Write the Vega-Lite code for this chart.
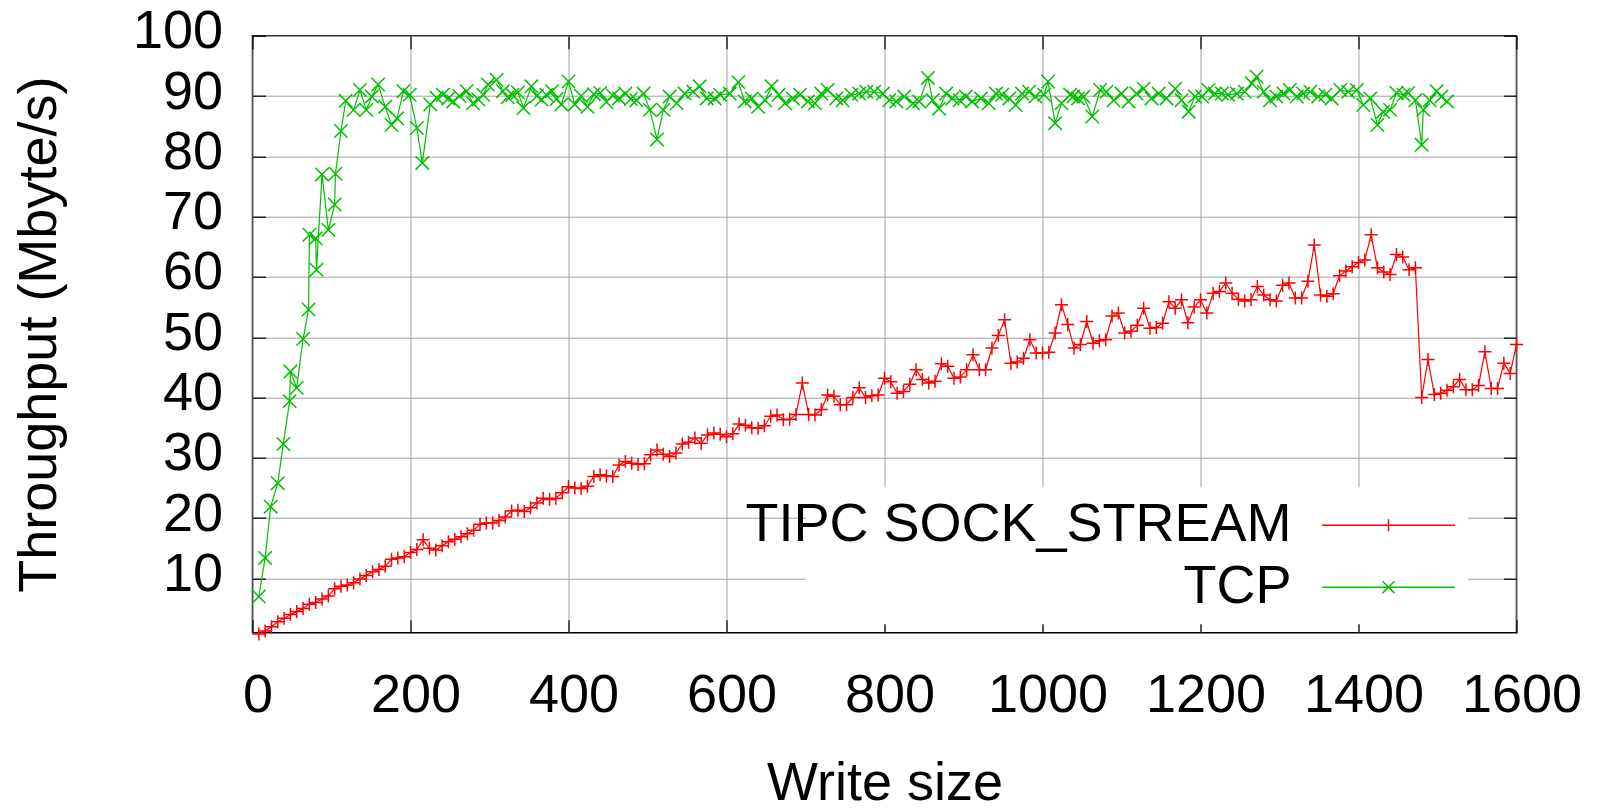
{
  "$schema": "https://vega.github.io/schema/vega-lite/v6.json",
  "width": 1264,
  "height": 597,
  "autosize": {"type": "none"},
  "padding": {"left": 252.5, "top": 35.7, "right": 81.5, "bottom": 177.3},
  "background": "#ffffff",
  "config": {
    "font": "Liberation Sans",
    "view": {"stroke": "#000000", "strokeWidth": 1.5},
    "axis": {"labelFont": "Liberation Sans", "titleFont": "Liberation Sans", "labelColor": "#000000", "titleColor": "#000000", "titleFontWeight": "normal", "gridColor": "#a0a0a0", "gridWidth": 1, "gridOpacity": 1, "tickColor": "#000000", "tickWidth": 1.2, "domain": false}
  },
  "data": {"values": [
    {"k":"TCP","x":8,"y":7.0},{"k":"TCP","x":16,"y":13.4},{"k":"TCP","x":23,"y":21.9},{"k":"TCP","x":32,"y":25.8},{"k":"TCP","x":39,"y":32.3},{"k":"TCP","x":47,"y":39.4},{"k":"TCP","x":48,"y":44.3},{"k":"TCP","x":56,"y":41.6},{"k":"TCP","x":64,"y":49.7},{"k":"TCP","x":71,"y":54.6},{"k":"TCP","x":72,"y":67.0},{"k":"TCP","x":80,"y":66.4},{"k":"TCP","x":81,"y":61.2},{"k":"TCP","x":88,"y":77.0},{"k":"TCP","x":96,"y":67.8},{"k":"TCP","x":104,"y":72.0},{"k":"TCP","x":105,"y":77.1},{"k":"TCP","x":112,"y":84.2},{"k":"TCP","x":118,"y":89.2},{"k":"TCP","x":128,"y":87.7},{"k":"TCP","x":136,"y":91.0},{"k":"TCP","x":144,"y":87.7},{"k":"TCP","x":151,"y":89.9},{"k":"TCP","x":159,"y":91.9},{"k":"TCP","x":168,"y":88.2},{"k":"TCP","x":176,"y":85.2},{"k":"TCP","x":183,"y":86.3},{"k":"TCP","x":191,"y":90.8},{"k":"TCP","x":199,"y":90.2},{"k":"TCP","x":208,"y":84.7},{"k":"TCP","x":215,"y":78.9},{"k":"TCP","x":225,"y":88.6},{"k":"TCP","x":233,"y":89.7},{"k":"TCP","x":241,"y":90.2},{"k":"TCP","x":248,"y":89.6},{"k":"TCP","x":254,"y":89.1},{"k":"TCP","x":262,"y":90.0},{"k":"TCP","x":271,"y":90.8},{"k":"TCP","x":279,"y":88.8},{"k":"TCP","x":286,"y":89.4},{"k":"TCP","x":292,"y":90.2},{"k":"TCP","x":298,"y":91.9},{"k":"TCP","x":309,"y":92.7},{"k":"TCP","x":317,"y":90.8},{"k":"TCP","x":323,"y":89.8},{"k":"TCP","x":329,"y":90.2},{"k":"TCP","x":336,"y":90.6},{"k":"TCP","x":343,"y":88.0},{"k":"TCP","x":353,"y":91.6},{"k":"TCP","x":360,"y":90.0},{"k":"TCP","x":366,"y":89.4},{"k":"TCP","x":372,"y":90.2},{"k":"TCP","x":379,"y":90.8},{"k":"TCP","x":385,"y":89.5},{"k":"TCP","x":391,"y":88.6},{"k":"TCP","x":400,"y":92.4},{"k":"TCP","x":408,"y":88.6},{"k":"TCP","x":416,"y":90.0},{"k":"TCP","x":424,"y":88.2},{"k":"TCP","x":432,"y":90.3},{"k":"TCP","x":440,"y":90.5},{"k":"TCP","x":448,"y":89.0},{"k":"TCP","x":456,"y":90.1},{"k":"TCP","x":464,"y":89.6},{"k":"TCP","x":472,"y":90.4},{"k":"TCP","x":479,"y":89.5},{"k":"TCP","x":486,"y":89.3},{"k":"TCP","x":495,"y":90.4},{"k":"TCP","x":503,"y":87.7},{"k":"TCP","x":512,"y":82.8},{"k":"TCP","x":520,"y":87.7},{"k":"TCP","x":528,"y":89.9},{"k":"TCP","x":537,"y":88.8},{"k":"TCP","x":547,"y":90.4},{"k":"TCP","x":558,"y":90.7},{"k":"TCP","x":566,"y":91.6},{"k":"TCP","x":575,"y":89.6},{"k":"TCP","x":585,"y":89.6},{"k":"TCP","x":592,"y":90.2},{"k":"TCP","x":604,"y":90.4},{"k":"TCP","x":615,"y":92.3},{"k":"TCP","x":623,"y":89.1},{"k":"TCP","x":632,"y":89.6},{"k":"TCP","x":640,"y":88.2},{"k":"TCP","x":649,"y":89.3},{"k":"TCP","x":657,"y":91.6},{"k":"TCP","x":666,"y":90.2},{"k":"TCP","x":674,"y":88.8},{"k":"TCP","x":684,"y":89.6},{"k":"TCP","x":693,"y":90.2},{"k":"TCP","x":703,"y":89.1},{"k":"TCP","x":712,"y":88.8},{"k":"TCP","x":720,"y":90.4},{"k":"TCP","x":728,"y":91.0},{"k":"TCP","x":739,"y":89.6},{"k":"TCP","x":747,"y":89.3},{"k":"TCP","x":758,"y":90.2},{"k":"TCP","x":768,"y":90.4},{"k":"TCP","x":777,"y":90.7},{"k":"TCP","x":787,"y":90.7},{"k":"TCP","x":798,"y":90.4},{"k":"TCP","x":806,"y":89.3},{"k":"TCP","x":815,"y":89.1},{"k":"TCP","x":825,"y":89.9},{"k":"TCP","x":836,"y":88.8},{"k":"TCP","x":844,"y":89.1},{"k":"TCP","x":855,"y":93.0},{"k":"TCP","x":861,"y":89.3},{"k":"TCP","x":869,"y":87.9},{"k":"TCP","x":878,"y":90.4},{"k":"TCP","x":886,"y":89.6},{"k":"TCP","x":895,"y":89.3},{"k":"TCP","x":903,"y":89.9},{"k":"TCP","x":911,"y":89.1},{"k":"TCP","x":922,"y":89.6},{"k":"TCP","x":932,"y":88.8},{"k":"TCP","x":941,"y":90.4},{"k":"TCP","x":949,"y":90.2},{"k":"TCP","x":958,"y":89.6},{"k":"TCP","x":966,"y":88.5},{"k":"TCP","x":974,"y":90.4},{"k":"TCP","x":983,"y":90.7},{"k":"TCP","x":991,"y":89.9},{"k":"TCP","x":1002,"y":90.2},{"k":"TCP","x":1007,"y":92.4},{"k":"TCP","x":1016,"y":85.5},{"k":"TCP","x":1024,"y":88.8},{"k":"TCP","x":1035,"y":90.2},{"k":"TCP","x":1039,"y":89.9},{"k":"TCP","x":1045,"y":89.6},{"k":"TCP","x":1052,"y":89.9},{"k":"TCP","x":1063,"y":86.6},{"k":"TCP","x":1073,"y":91.0},{"k":"TCP","x":1081,"y":90.7},{"k":"TCP","x":1090,"y":89.3},{"k":"TCP","x":1100,"y":90.4},{"k":"TCP","x":1109,"y":89.1},{"k":"TCP","x":1119,"y":90.4},{"k":"TCP","x":1128,"y":91.2},{"k":"TCP","x":1138,"y":89.6},{"k":"TCP","x":1147,"y":90.4},{"k":"TCP","x":1157,"y":89.6},{"k":"TCP","x":1168,"y":91.2},{"k":"TCP","x":1176,"y":89.3},{"k":"TCP","x":1185,"y":87.4},{"k":"TCP","x":1193,"y":89.9},{"k":"TCP","x":1202,"y":89.9},{"k":"TCP","x":1210,"y":91.0},{"k":"TCP","x":1218,"y":90.4},{"k":"TCP","x":1227,"y":90.4},{"k":"TCP","x":1235,"y":90.2},{"k":"TCP","x":1246,"y":90.4},{"k":"TCP","x":1256,"y":90.7},{"k":"TCP","x":1265,"y":92.1},{"k":"TCP","x":1271,"y":93.2},{"k":"TCP","x":1280,"y":90.7},{"k":"TCP","x":1288,"y":89.3},{"k":"TCP","x":1296,"y":89.9},{"k":"TCP","x":1305,"y":90.4},{"k":"TCP","x":1313,"y":91.0},{"k":"TCP","x":1322,"y":89.9},{"k":"TCP","x":1330,"y":90.4},{"k":"TCP","x":1339,"y":90.7},{"k":"TCP","x":1349,"y":89.9},{"k":"TCP","x":1358,"y":90.2},{"k":"TCP","x":1366,"y":89.6},{"k":"TCP","x":1377,"y":91.0},{"k":"TCP","x":1387,"y":90.7},{"k":"TCP","x":1398,"y":91.0},{"k":"TCP","x":1406,"y":88.5},{"k":"TCP","x":1415,"y":89.6},{"k":"TCP","x":1424,"y":85.2},{"k":"TCP","x":1431,"y":87.4},{"k":"TCP","x":1440,"y":87.7},{"k":"TCP","x":1448,"y":90.5},{"k":"TCP","x":1457,"y":90.2},{"k":"TCP","x":1463,"y":90.5},{"k":"TCP","x":1472,"y":89.3},{"k":"TCP","x":1480,"y":81.9},{"k":"TCP","x":1482,"y":87.7},{"k":"TCP","x":1490,"y":89.3},{"k":"TCP","x":1499,"y":90.8},{"k":"TCP","x":1505,"y":89.9},{"k":"TCP","x":1512,"y":89.1},
    {"k":"TIPC SOCK_STREAM","x":8,"y":0.8},{"k":"TIPC SOCK_STREAM","x":16,"y":1.3},{"k":"TIPC SOCK_STREAM","x":24,"y":2.0},{"k":"TIPC SOCK_STREAM","x":32,"y":2.8},{"k":"TIPC SOCK_STREAM","x":40,"y":3.4},{"k":"TIPC SOCK_STREAM","x":48,"y":4.0},{"k":"TIPC SOCK_STREAM","x":56,"y":4.5},{"k":"TIPC SOCK_STREAM","x":64,"y":5.0},{"k":"TIPC SOCK_STREAM","x":72,"y":5.7},{"k":"TIPC SOCK_STREAM","x":80,"y":6.0},{"k":"TIPC SOCK_STREAM","x":88,"y":6.6},{"k":"TIPC SOCK_STREAM","x":96,"y":7.1},{"k":"TIPC SOCK_STREAM","x":104,"y":8.3},{"k":"TIPC SOCK_STREAM","x":112,"y":8.7},{"k":"TIPC SOCK_STREAM","x":120,"y":8.9},{"k":"TIPC SOCK_STREAM","x":128,"y":9.3},{"k":"TIPC SOCK_STREAM","x":136,"y":9.9},{"k":"TIPC SOCK_STREAM","x":144,"y":10.5},{"k":"TIPC SOCK_STREAM","x":152,"y":11.1},{"k":"TIPC SOCK_STREAM","x":160,"y":11.5},{"k":"TIPC SOCK_STREAM","x":168,"y":12.0},{"k":"TIPC SOCK_STREAM","x":176,"y":13.2},{"k":"TIPC SOCK_STREAM","x":184,"y":13.4},{"k":"TIPC SOCK_STREAM","x":192,"y":13.6},{"k":"TIPC SOCK_STREAM","x":200,"y":14.3},{"k":"TIPC SOCK_STREAM","x":208,"y":14.8},{"k":"TIPC SOCK_STREAM","x":216,"y":16.4},{"k":"TIPC SOCK_STREAM","x":224,"y":15.0},{"k":"TIPC SOCK_STREAM","x":232,"y":14.7},{"k":"TIPC SOCK_STREAM","x":240,"y":15.4},{"k":"TIPC SOCK_STREAM","x":248,"y":16.1},{"k":"TIPC SOCK_STREAM","x":256,"y":16.5},{"k":"TIPC SOCK_STREAM","x":264,"y":16.9},{"k":"TIPC SOCK_STREAM","x":272,"y":17.4},{"k":"TIPC SOCK_STREAM","x":280,"y":18.0},{"k":"TIPC SOCK_STREAM","x":288,"y":19.0},{"k":"TIPC SOCK_STREAM","x":296,"y":19.2},{"k":"TIPC SOCK_STREAM","x":304,"y":19.2},{"k":"TIPC SOCK_STREAM","x":312,"y":19.6},{"k":"TIPC SOCK_STREAM","x":320,"y":20.2},{"k":"TIPC SOCK_STREAM","x":328,"y":21.2},{"k":"TIPC SOCK_STREAM","x":336,"y":21.3},{"k":"TIPC SOCK_STREAM","x":344,"y":21.1},{"k":"TIPC SOCK_STREAM","x":352,"y":21.7},{"k":"TIPC SOCK_STREAM","x":360,"y":22.5},{"k":"TIPC SOCK_STREAM","x":368,"y":23.3},{"k":"TIPC SOCK_STREAM","x":376,"y":23.1},{"k":"TIPC SOCK_STREAM","x":384,"y":23.3},{"k":"TIPC SOCK_STREAM","x":392,"y":24.2},{"k":"TIPC SOCK_STREAM","x":400,"y":25.2},{"k":"TIPC SOCK_STREAM","x":408,"y":25.0},{"k":"TIPC SOCK_STREAM","x":416,"y":24.9},{"k":"TIPC SOCK_STREAM","x":424,"y":25.3},{"k":"TIPC SOCK_STREAM","x":432,"y":26.9},{"k":"TIPC SOCK_STREAM","x":440,"y":27.2},{"k":"TIPC SOCK_STREAM","x":448,"y":27.0},{"k":"TIPC SOCK_STREAM","x":456,"y":26.9},{"k":"TIPC SOCK_STREAM","x":464,"y":28.8},{"k":"TIPC SOCK_STREAM","x":472,"y":29.4},{"k":"TIPC SOCK_STREAM","x":480,"y":29.1},{"k":"TIPC SOCK_STREAM","x":488,"y":28.9},{"k":"TIPC SOCK_STREAM","x":496,"y":29.0},{"k":"TIPC SOCK_STREAM","x":504,"y":30.5},{"k":"TIPC SOCK_STREAM","x":512,"y":31.3},{"k":"TIPC SOCK_STREAM","x":520,"y":30.6},{"k":"TIPC SOCK_STREAM","x":528,"y":30.2},{"k":"TIPC SOCK_STREAM","x":536,"y":30.8},{"k":"TIPC SOCK_STREAM","x":544,"y":32.3},{"k":"TIPC SOCK_STREAM","x":552,"y":32.6},{"k":"TIPC SOCK_STREAM","x":560,"y":33.3},{"k":"TIPC SOCK_STREAM","x":568,"y":32.4},{"k":"TIPC SOCK_STREAM","x":576,"y":33.8},{"k":"TIPC SOCK_STREAM","x":584,"y":34.1},{"k":"TIPC SOCK_STREAM","x":592,"y":33.9},{"k":"TIPC SOCK_STREAM","x":600,"y":33.5},{"k":"TIPC SOCK_STREAM","x":608,"y":34.0},{"k":"TIPC SOCK_STREAM","x":616,"y":35.6},{"k":"TIPC SOCK_STREAM","x":624,"y":35.4},{"k":"TIPC SOCK_STREAM","x":632,"y":35.0},{"k":"TIPC SOCK_STREAM","x":640,"y":34.9},{"k":"TIPC SOCK_STREAM","x":648,"y":35.3},{"k":"TIPC SOCK_STREAM","x":656,"y":36.9},{"k":"TIPC SOCK_STREAM","x":664,"y":37.1},{"k":"TIPC SOCK_STREAM","x":672,"y":36.3},{"k":"TIPC SOCK_STREAM","x":680,"y":36.4},{"k":"TIPC SOCK_STREAM","x":688,"y":37.2},{"k":"TIPC SOCK_STREAM","x":696,"y":42.4},{"k":"TIPC SOCK_STREAM","x":704,"y":37.2},{"k":"TIPC SOCK_STREAM","x":712,"y":37.1},{"k":"TIPC SOCK_STREAM","x":720,"y":38.0},{"k":"TIPC SOCK_STREAM","x":728,"y":40.4},{"k":"TIPC SOCK_STREAM","x":736,"y":40.2},{"k":"TIPC SOCK_STREAM","x":744,"y":38.8},{"k":"TIPC SOCK_STREAM","x":752,"y":38.8},{"k":"TIPC SOCK_STREAM","x":760,"y":40.0},{"k":"TIPC SOCK_STREAM","x":768,"y":41.6},{"k":"TIPC SOCK_STREAM","x":776,"y":40.0},{"k":"TIPC SOCK_STREAM","x":784,"y":40.3},{"k":"TIPC SOCK_STREAM","x":792,"y":40.4},{"k":"TIPC SOCK_STREAM","x":800,"y":43.2},{"k":"TIPC SOCK_STREAM","x":808,"y":42.6},{"k":"TIPC SOCK_STREAM","x":816,"y":40.7},{"k":"TIPC SOCK_STREAM","x":824,"y":41.0},{"k":"TIPC SOCK_STREAM","x":832,"y":42.2},{"k":"TIPC SOCK_STREAM","x":840,"y":44.6},{"k":"TIPC SOCK_STREAM","x":848,"y":43.0},{"k":"TIPC SOCK_STREAM","x":856,"y":42.4},{"k":"TIPC SOCK_STREAM","x":864,"y":42.7},{"k":"TIPC SOCK_STREAM","x":872,"y":45.6},{"k":"TIPC SOCK_STREAM","x":880,"y":45.2},{"k":"TIPC SOCK_STREAM","x":888,"y":43.2},{"k":"TIPC SOCK_STREAM","x":896,"y":43.4},{"k":"TIPC SOCK_STREAM","x":904,"y":44.6},{"k":"TIPC SOCK_STREAM","x":912,"y":47.1},{"k":"TIPC SOCK_STREAM","x":920,"y":44.6},{"k":"TIPC SOCK_STREAM","x":928,"y":44.6},{"k":"TIPC SOCK_STREAM","x":936,"y":48.2},{"k":"TIPC SOCK_STREAM","x":944,"y":50.3},{"k":"TIPC SOCK_STREAM","x":952,"y":52.9},{"k":"TIPC SOCK_STREAM","x":960,"y":45.7},{"k":"TIPC SOCK_STREAM","x":968,"y":45.9},{"k":"TIPC SOCK_STREAM","x":976,"y":46.5},{"k":"TIPC SOCK_STREAM","x":984,"y":49.6},{"k":"TIPC SOCK_STREAM","x":992,"y":47.4},{"k":"TIPC SOCK_STREAM","x":1000,"y":47.4},{"k":"TIPC SOCK_STREAM","x":1008,"y":47.5},{"k":"TIPC SOCK_STREAM","x":1016,"y":50.7},{"k":"TIPC SOCK_STREAM","x":1024,"y":55.4},{"k":"TIPC SOCK_STREAM","x":1032,"y":52.1},{"k":"TIPC SOCK_STREAM","x":1040,"y":48.2},{"k":"TIPC SOCK_STREAM","x":1048,"y":48.8},{"k":"TIPC SOCK_STREAM","x":1056,"y":52.6},{"k":"TIPC SOCK_STREAM","x":1064,"y":49.0},{"k":"TIPC SOCK_STREAM","x":1072,"y":49.4},{"k":"TIPC SOCK_STREAM","x":1080,"y":49.6},{"k":"TIPC SOCK_STREAM","x":1088,"y":53.5},{"k":"TIPC SOCK_STREAM","x":1096,"y":54.0},{"k":"TIPC SOCK_STREAM","x":1104,"y":50.7},{"k":"TIPC SOCK_STREAM","x":1112,"y":51.0},{"k":"TIPC SOCK_STREAM","x":1120,"y":52.0},{"k":"TIPC SOCK_STREAM","x":1128,"y":54.8},{"k":"TIPC SOCK_STREAM","x":1136,"y":51.5},{"k":"TIPC SOCK_STREAM","x":1144,"y":51.6},{"k":"TIPC SOCK_STREAM","x":1152,"y":52.3},{"k":"TIPC SOCK_STREAM","x":1160,"y":55.9},{"k":"TIPC SOCK_STREAM","x":1168,"y":54.8},{"k":"TIPC SOCK_STREAM","x":1176,"y":56.2},{"k":"TIPC SOCK_STREAM","x":1184,"y":52.4},{"k":"TIPC SOCK_STREAM","x":1192,"y":55.0},{"k":"TIPC SOCK_STREAM","x":1200,"y":56.2},{"k":"TIPC SOCK_STREAM","x":1208,"y":54.0},{"k":"TIPC SOCK_STREAM","x":1216,"y":57.3},{"k":"TIPC SOCK_STREAM","x":1224,"y":57.6},{"k":"TIPC SOCK_STREAM","x":1232,"y":59.0},{"k":"TIPC SOCK_STREAM","x":1240,"y":57.3},{"k":"TIPC SOCK_STREAM","x":1248,"y":56.3},{"k":"TIPC SOCK_STREAM","x":1256,"y":56.0},{"k":"TIPC SOCK_STREAM","x":1264,"y":56.2},{"k":"TIPC SOCK_STREAM","x":1272,"y":58.4},{"k":"TIPC SOCK_STREAM","x":1280,"y":57.0},{"k":"TIPC SOCK_STREAM","x":1288,"y":56.2},{"k":"TIPC SOCK_STREAM","x":1296,"y":56.0},{"k":"TIPC SOCK_STREAM","x":1304,"y":58.6},{"k":"TIPC SOCK_STREAM","x":1312,"y":59.0},{"k":"TIPC SOCK_STREAM","x":1320,"y":56.5},{"k":"TIPC SOCK_STREAM","x":1328,"y":56.5},{"k":"TIPC SOCK_STREAM","x":1336,"y":59.3},{"k":"TIPC SOCK_STREAM","x":1344,"y":65.3},{"k":"TIPC SOCK_STREAM","x":1352,"y":57.0},{"k":"TIPC SOCK_STREAM","x":1360,"y":56.8},{"k":"TIPC SOCK_STREAM","x":1368,"y":57.2},{"k":"TIPC SOCK_STREAM","x":1376,"y":60.2},{"k":"TIPC SOCK_STREAM","x":1384,"y":61.0},{"k":"TIPC SOCK_STREAM","x":1392,"y":61.7},{"k":"TIPC SOCK_STREAM","x":1400,"y":62.4},{"k":"TIPC SOCK_STREAM","x":1408,"y":62.8},{"k":"TIPC SOCK_STREAM","x":1416,"y":67.0},{"k":"TIPC SOCK_STREAM","x":1424,"y":61.5},{"k":"TIPC SOCK_STREAM","x":1432,"y":60.8},{"k":"TIPC SOCK_STREAM","x":1440,"y":60.4},{"k":"TIPC SOCK_STREAM","x":1448,"y":63.7},{"k":"TIPC SOCK_STREAM","x":1456,"y":63.3},{"k":"TIPC SOCK_STREAM","x":1464,"y":61.2},{"k":"TIPC SOCK_STREAM","x":1472,"y":61.5},{"k":"TIPC SOCK_STREAM","x":1480,"y":40.0},{"k":"TIPC SOCK_STREAM","x":1488,"y":46.3},{"k":"TIPC SOCK_STREAM","x":1496,"y":40.5},{"k":"TIPC SOCK_STREAM","x":1504,"y":40.7},{"k":"TIPC SOCK_STREAM","x":1512,"y":41.2},{"k":"TIPC SOCK_STREAM","x":1520,"y":41.8},{"k":"TIPC SOCK_STREAM","x":1528,"y":43.0},{"k":"TIPC SOCK_STREAM","x":1536,"y":41.3},{"k":"TIPC SOCK_STREAM","x":1544,"y":41.3},{"k":"TIPC SOCK_STREAM","x":1552,"y":42.0},{"k":"TIPC SOCK_STREAM","x":1560,"y":47.6},{"k":"TIPC SOCK_STREAM","x":1568,"y":41.5},{"k":"TIPC SOCK_STREAM","x":1576,"y":41.5},{"k":"TIPC SOCK_STREAM","x":1584,"y":45.7},{"k":"TIPC SOCK_STREAM","x":1592,"y":44.0},{"k":"TIPC SOCK_STREAM","x":1600,"y":48.8}
  ]},
  "encoding": {
    "color": {
      "field": "k", "type": "nominal",
      "scale": {"domain": ["TIPC SOCK_STREAM", "TCP"], "range": ["#ff0000", "#00c000"]},
      "legend": {
        "title": null, "orient": "none", "legendX": 553.5, "legendY": 451.5,
        "padding": 10, "fillColor": "#ffffff", "strokeColor": null,
        "labelFont": "Liberation Sans", "labelFontSize": 54, "labelColor": "#000000", "labelLimit": 2000,
        "labelAlign": "right", "labelOffset": -125, "symbolOffset": 544.5, "symbolSize": 2916,
        "rowPadding": 7,
        "encode": {
          "symbols": {"update": {
            "shape": {"signal": "datum.value === 'TCP' ? 'M-2.46,0H2.46M-0.22,-0.22L0.22,0.22M-0.22,0.22L0.22,-0.22' : 'M-2.46,0H2.46M0,-0.22V0.22'"},
            "fill": {"value": "transparent"},
            "strokeWidth": {"value": 1.5}
          }},
          "labels": {"update": {"align": {"value": "right"}}}
        }
      }
    }
  },
  "layer": [
    {
      "mark": {"type": "line", "strokeWidth": 1.2},
      "encoding": {
        "x": {"field": "x", "type": "quantitative", "scale": {"domain": [0, 1600], "nice": false, "zero": false},
          "axis": {"orient": "bottom", "values": [0,200,400,600,800,1000,1200,1400,1600], "format": "d", "grid": true, "ticks": true, "tickSize": -13,
            "labelFontSize": 54, "labelPadding": 49, "labelFlush": false, "labelOverlap": false, "labelOffset": 5,
            "title": "Write size", "titleFontSize": 54, "titleY": 166.5, "titleBaseline": "alphabetic"}},
        "y": {"field": "y", "type": "quantitative", "scale": {"domain": [1, 100], "nice": false, "zero": false},
          "axis": {"orient": "left", "values": [10,20,30,40,50,60,70,80,90,100], "grid": true, "ticks": true, "tickSize": -13,
            "labelFontSize": 54, "labelPadding": 43, "labelOverlap": false, "labelFlush": false, "labelOffset": -4,
            "title": "Throughput (Mbyte/s)", "titleFontSize": 54, "titleX": -197, "titleY": 298.5, "titleAngle": -90, "titleBaseline": "alphabetic", "titleAlign": "center"}}
      }
    },
    {
      "transform": [{"filter": "datum.k === 'TIPC SOCK_STREAM'"}],
      "mark": {"type": "point", "filled": false, "strokeWidth": 1.5, "opacity": 1, "shape": "M-1,0H1M0,-1V1", "size": 169},
      "encoding": {
        "x": {"field": "x", "type": "quantitative",
          "axis": {"orient": "top", "values": [0,200,400,600,800,1000,1200,1400,1600], "grid": false, "labels": false, "ticks": true, "tickSize": -13, "title": null}},
        "y": {"field": "y", "type": "quantitative",
          "axis": {"orient": "right", "values": [10,20,30,40,50,60,70,80,90,100], "grid": false, "labels": false, "ticks": true, "tickSize": -13, "title": null}}
      }
    },
    {
      "transform": [{"filter": "datum.k === 'TCP'"}],
      "mark": {"type": "point", "filled": false, "strokeWidth": 1.5, "opacity": 1, "shape": "M-1,-1L1,1M-1,1L1,-1", "size": 180},
      "encoding": {
        "x": {"field": "x", "type": "quantitative", "axis": null},
        "y": {"field": "y", "type": "quantitative", "axis": null}
      }
    }
  ],
  "resolve": {"axis": {"x": "independent", "y": "independent"}}
}
